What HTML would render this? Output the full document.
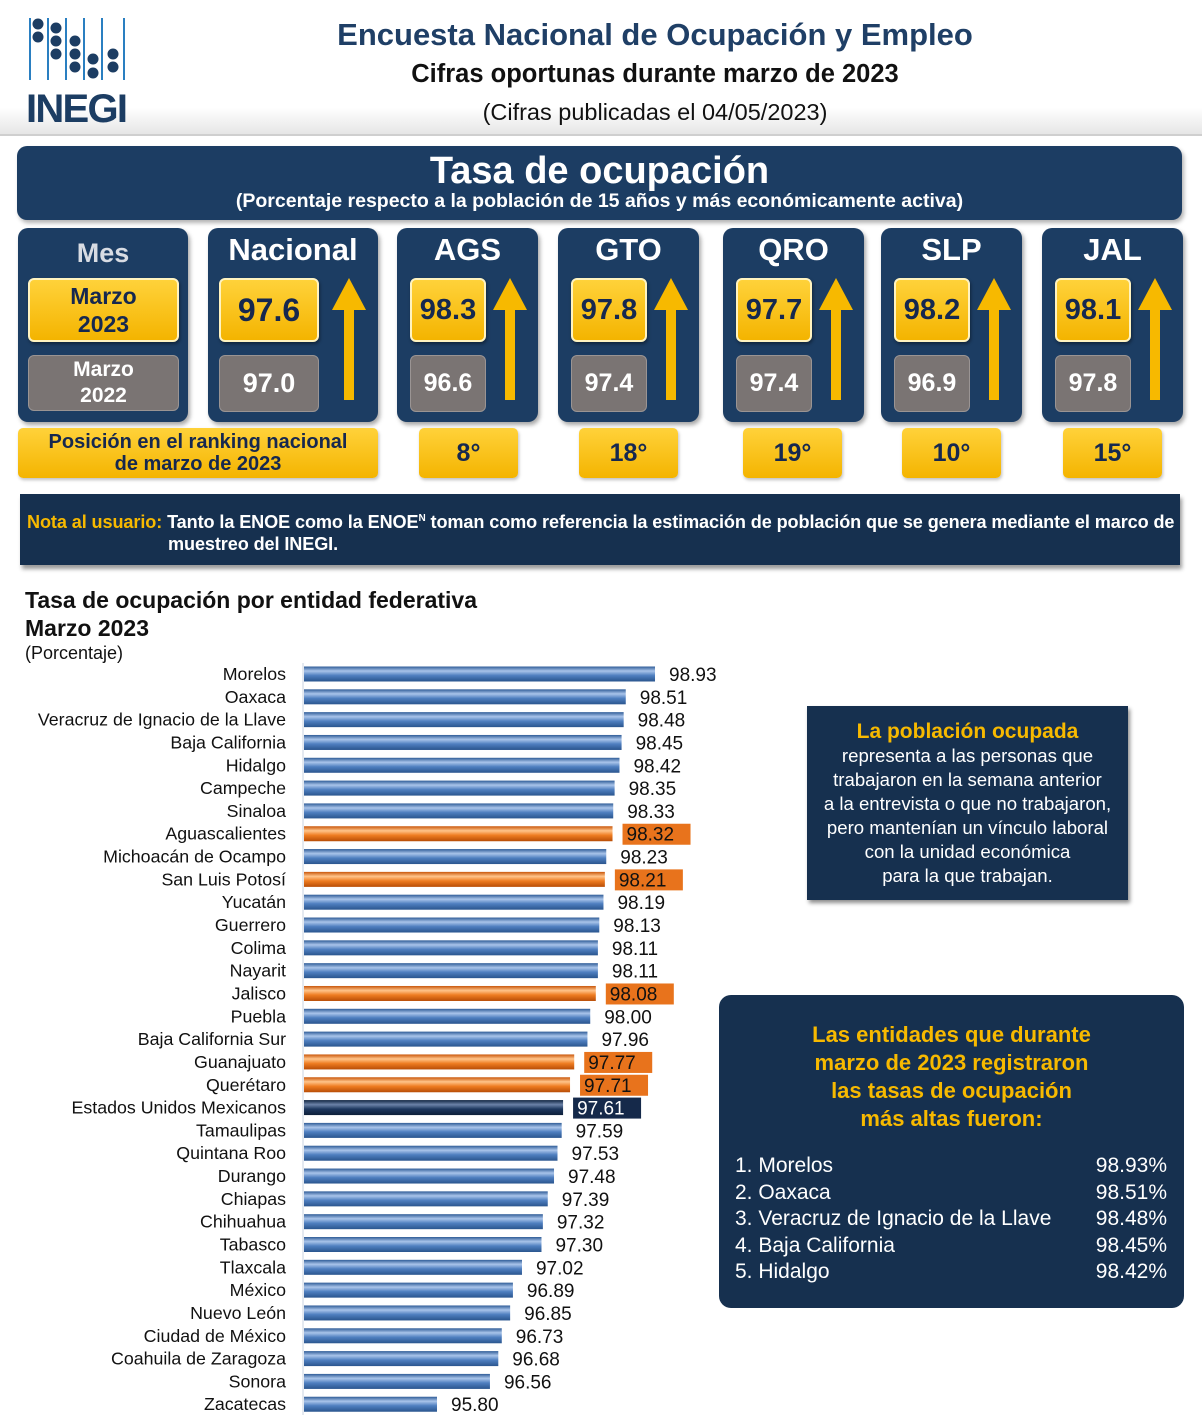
<!DOCTYPE html>
<html><head><meta charset="utf-8">
<style>
*{box-sizing:border-box;margin:0;padding:0}
body{width:1202px;height:1417px;background:#fff;font-family:"Liberation Sans",sans-serif;position:relative;overflow:hidden}
.a{position:absolute}
.navy{background:#1c3d63;border-radius:10px}
.card{position:absolute;top:228px;height:194px;background:#1c3d63;border-radius:10px;box-shadow:2px 3px 4px rgba(0,0,0,.35)}
.card h2{position:absolute;left:0;right:0;top:4px;text-align:center;color:#fff;font-size:31px;font-weight:bold}
.yb{position:absolute;top:50px;height:64px;border-radius:6px;background:linear-gradient(#ffd23a,#f4b400);border:2px solid #fff3c0;color:#16284f;font-weight:bold;font-size:32px;display:flex;align-items:center;justify-content:center;box-shadow:1px 2px 3px rgba(0,0,0,.4)}
.gb{position:absolute;top:127px;height:57px;border-radius:6px;background:#7a7473;border:1px solid #9a9493;color:#fff;font-weight:bold;font-size:27px;display:flex;align-items:center;justify-content:center}
.arrow{position:absolute;top:50px;width:34px;height:124px}
.rk{position:absolute;top:428px;height:50px;border-radius:5px;background:linear-gradient(#ffd23a,#f4b400);color:#16284f;font-weight:bold;font-size:25px;display:flex;align-items:center;justify-content:center;text-align:center;box-shadow:1px 2px 3px rgba(0,0,0,.25)}
</style></head><body>
<div class="a" style="left:0;top:0;width:1202px;height:136px;background:linear-gradient(#fff 80%,#e6e6e6);border-bottom:2px solid #cfcfcf"></div>
<svg class="a" style="left:26px;top:16px" width="106" height="110">
<g stroke="#2a7fc1" stroke-width="2"><line x1="4" y1="2" x2="4" y2="64"/><line x1="22" y1="2" x2="22" y2="64"/><line x1="40" y1="2" x2="40" y2="64"/><line x1="58" y1="2" x2="58" y2="64"/><line x1="76" y1="2" x2="76" y2="64"/><line x1="98" y1="2" x2="98" y2="64"/></g>
<g fill="#1c3d63"><circle cx="12" cy="8" r="5.5"/><circle cx="12" cy="21" r="5.5"/><circle cx="30" cy="12" r="5.5"/><circle cx="30" cy="25" r="5.5"/><circle cx="30" cy="38" r="5.5"/><circle cx="49" cy="25" r="5.5"/><circle cx="49" cy="38" r="5.5"/><circle cx="49" cy="51" r="5.5"/><circle cx="67" cy="43" r="5.5"/><circle cx="67" cy="57" r="5.5"/><circle cx="87" cy="38" r="5.5"/><circle cx="87" cy="51" r="5.5"/></g>
<text x="0" y="106" font-family="Liberation Sans" font-weight="bold" font-size="40" fill="#1c3d63" textLength="102">INEGI</text></svg>
<div class="a" style="left:300px;width:710px;top:17px;text-align:center;font-size:31px;font-weight:bold;color:#1f3f66">Encuesta Nacional de Ocupación y Empleo</div>
<div class="a" style="left:300px;width:710px;top:60px;text-align:center;font-size:25.5px;font-weight:bold;color:#111">Cifras oportunas durante marzo de 2023</div>
<div class="a" style="left:300px;width:710px;top:99px;text-align:center;font-size:23.5px;color:#111">(Cifras publicadas el 04/05/2023)</div>

<div class="a navy" style="left:17px;top:146px;width:1165px;height:74px;box-shadow:2px 3px 4px rgba(0,0,0,.3)">
<div style="text-align:center;color:#fff;font-weight:bold;font-size:38px;margin-top:4px">Tasa de ocupación</div>
<div style="text-align:center;color:#fff;font-weight:bold;font-size:19.5px;margin-top:-3px">(Porcentaje respecto a la población de 15 años y más económicamente activa)</div></div>

<div class="card" style="left:18px;width:170px">
<h2 style="color:#d8dce3;font-size:27px;top:10px">Mes</h2>
<div class="yb" style="left:10px;width:151px;font-size:23px;line-height:28px;text-align:center">Marzo<br>2023</div>
<div class="gb" style="left:10px;width:151px;font-size:21px;line-height:26px;text-align:center;top:127px;height:56px">Marzo<br>2022</div></div>

<div class="card" style="left:208px;width:170px"><h2>Nacional</h2>
<div class="yb" style="left:11px;width:100px">97.6</div><div class="gb" style="left:11px;width:100px">97.0</div>
<svg class="arrow" style="left:124px" viewBox="0 0 34 124"><polygon points="17,0 34,32 22,32 22,122 12,122 12,32 0,32" fill="#f7b900"/></svg></div>

<div id="states"></div>

<div class="rk" style="left:18px;width:360px;font-size:20px;line-height:22px">Posición en el ranking nacional<br>de marzo de 2023</div>

<div class="a" style="left:20px;top:494px;width:1160px;height:71px;background:#16304f;box-shadow:2px 4px 4px rgba(0,0,0,.4);padding:14px 6px 0 7px;color:#fff;font-weight:bold;font-size:18.1px;line-height:22px;white-space:nowrap;letter-spacing:-0.1px;overflow:hidden">
<span style="color:#f7b900">Nota al usuario:</span> Tanto la ENOE como la ENOE<sup style="font-size:10px">N</sup> toman como referencia la estimación de población que se genera mediante el marco de<br><span style="padding-left:141px">muestreo del INEGI.</span></div>

<div class="a" style="left:25px;top:586px;font-size:23px;font-weight:bold;color:#111;line-height:28px">Tasa de ocupación por entidad federativa<br>Marzo 2023</div>
<div class="a" style="left:25px;top:643px;font-size:18px;color:#111">(Porcentaje)</div>

<svg class="a" id="chart" style="left:0;top:655px" width="730" height="762"></svg>

<div class="a" style="left:807px;top:706px;width:321px;height:194px;background:#16304f;box-shadow:2px 3px 4px rgba(0,0,0,.45);text-align:center;color:#fff;font-size:18.6px;line-height:24px;padding-top:14px;white-space:nowrap">
<div style="color:#f7b900;font-weight:bold;font-size:21px">La población ocupada</div>representa a las personas que<br>trabajaron en la semana anterior<br>a la entrevista o que no trabajaron,<br>pero mantenían un vínculo laboral<br>con la unidad económica<br>para la que trabajan.</div>

<div class="a" style="left:719px;top:995px;width:465px;height:313px;background:#16304f;border-radius:12px;color:#fff">
<div style="text-align:center;color:#f7b900;font-weight:bold;font-size:22px;line-height:28px;margin-top:26px">Las entidades que durante<br>marzo de 2023 registraron<br>las tasas de ocupación<br>más altas fueron:</div>
<div id="top5" style="position:absolute;left:16px;top:158px;width:432px;font-size:21px;line-height:26.5px"></div></div>

<script>
const states=["Morelos","Oaxaca","Veracruz de Ignacio de la Llave","Baja California","Hidalgo","Campeche","Sinaloa","Aguascalientes","Michoacán de Ocampo","San Luis Potosí","Yucatán","Guerrero","Colima","Nayarit","Jalisco","Puebla","Baja California Sur","Guanajuato","Querétaro","Estados Unidos Mexicanos","Tamaulipas","Quintana Roo","Durango","Chiapas","Chihuahua","Tabasco","Tlaxcala","México","Nuevo León","Ciudad de México","Coahuila de Zaragoza","Sonora","Zacatecas"];
const rates=[98.93,98.51,98.48,98.45,98.42,98.35,98.33,98.32,98.23,98.21,98.19,98.13,98.11,98.11,98.08,98.00,97.96,97.77,97.71,97.61,97.59,97.53,97.48,97.39,97.32,97.30,97.02,96.89,96.85,96.73,96.68,96.56,95.80];
const highlight=["Aguascalientes","San Luis Potosí","Jalisco","Guanajuato","Querétaro"];
const national="Estados Unidos Mexicanos";
const cardCodes=["AGS","GTO","QRO","SLP","JAL"];
const card2023=["98.3","97.8","97.7","98.2","98.1"];
const card2022=["96.6","97.4","97.4","96.9","97.8"];
const ranks=["8°","18°","19°","10°","15°"];
const top5Names=["1. Morelos","2. Oaxaca","3. Veracruz de Ignacio de la Llave","4. Baja California","5. Hidalgo"];
const top5Vals=["98.93%","98.51%","98.48%","98.45%","98.42%"];

const cardX=[397,558,723,881,1042], rkX=[419,579,743,902,1063];
const host=document.getElementById('states');
cardCodes.forEach((c,i)=>{
 const d=document.createElement('div');d.className='card';d.style.left=cardX[i]+'px';d.style.width='141px';
 
 
 d.innerHTML='<h2>'+c+'</h2><div class="yb" style="left:13px;width:76px;font-size:29px">'+card2023[i]+'</div><div class="gb" style="left:13px;width:76px;font-size:25px">'+card2022[i]+'</div><svg class="arrow" style="left:96px" viewBox="0 0 34 124"><polygon points="17,0 34,32 22,32 22,122 12,122 12,32 0,32" fill="#f7b900"/></svg>';
 host.appendChild(d);
 const r=document.createElement('div');r.className='rk';r.style.left=rkX[i]+'px';r.style.width='99px';r.textContent=ranks[i];
 
 
 host.appendChild(r);
});

const svg=document.getElementById('chart'),NS='http://www.w3.org/2000/svg';
const x0=303,vmin=93.876,kx=69.65;
const xs=v=>x0+(v-vmin)*kx;
const ys=i=>19+i*22.82;
const defs=document.createElementNS(NS,'defs');
defs.innerHTML='<linearGradient id="gb" x1="0" y1="0" x2="0" y2="1"><stop offset="0" stop-color="#2f5c97"/><stop offset=".3" stop-color="#a9c4ea"/><stop offset=".6" stop-color="#4f7fc0"/><stop offset="1" stop-color="#2a558e"/></linearGradient><linearGradient id="go" x1="0" y1="0" x2="0" y2="1"><stop offset="0" stop-color="#c9560a"/><stop offset=".3" stop-color="#ffc48a"/><stop offset=".6" stop-color="#ef7d22"/><stop offset="1" stop-color="#b84d06"/></linearGradient><linearGradient id="gn" x1="0" y1="0" x2="0" y2="1"><stop offset="0" stop-color="#0f2340"/><stop offset=".3" stop-color="#6c83a8"/><stop offset=".6" stop-color="#1d375e"/><stop offset="1" stop-color="#0d1f39"/></linearGradient>';
svg.appendChild(defs);
const ax=document.createElementNS(NS,'line');
ax.setAttribute('x1',x0);ax.setAttribute('x2',x0);ax.setAttribute('y1',8);ax.setAttribute('y2',760);ax.setAttribute('stroke','#c9d3e0');


svg.appendChild(ax);
states.forEach((s,i)=>{
 const v=rates[i],y=ys(i),hl=highlight.includes(s),nat=s===national;
 const t=document.createElementNS(NS,'text');t.setAttribute('x',286);t.setAttribute('y',y+6);t.setAttribute('text-anchor','end');t.setAttribute('font-size','17.8');t.setAttribute('fill','#111');t.setAttribute('font-family','Liberation Sans');t.textContent=s;
 
 
 svg.appendChild(t);
 const r=document.createElementNS(NS,'rect');r.setAttribute('x',x0+1);r.setAttribute('y',y-7.5);r.setAttribute('width',xs(v)-x0-1);r.setAttribute('height',15);
 r.setAttribute('fill',nat?'url(#gn)':hl?'url(#go)':'url(#gb)');
 
 
 svg.appendChild(r);
 const tx=xs(v)+14;
 if(hl||nat){const b=document.createElementNS(NS,'rect');b.setAttribute('x',tx-4);b.setAttribute('y',y-10);b.setAttribute('width',68);b.setAttribute('height',21);b.setAttribute('fill',nat?'#15294a':'#e8731c');
 
 
 svg.appendChild(b);}
 const vt=document.createElementNS(NS,'text');vt.setAttribute('x',tx);vt.setAttribute('y',y+7);vt.setAttribute('font-size','19');vt.setAttribute('font-family','Liberation Sans');vt.setAttribute('fill',nat?'#fff':'#111');vt.textContent=v.toFixed(2);
 
 
 svg.appendChild(vt);
});
const t5=document.getElementById('top5');
top5Names.forEach((n,i)=>{
 const row=document.createElement('div');row.style.display='flex';row.style.justifyContent='space-between';
 
 
 row.innerHTML='<span>'+n+'</span><span>'+top5Vals[i]+'</span>';t5.appendChild(row);
});
</script>
</body></html>
